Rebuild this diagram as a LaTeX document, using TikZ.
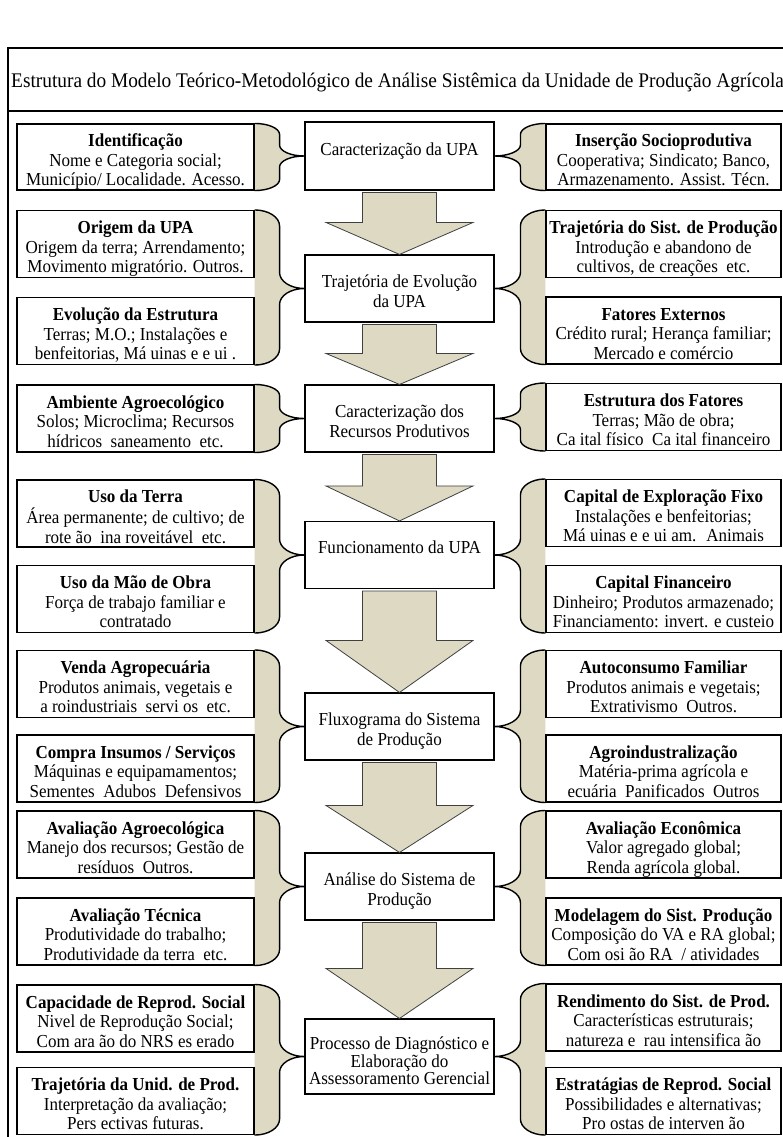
\documentclass[tikz,border=0pt]{standalone}
\usepackage{fontspec}
\setmainfont[FakeStretch=0.93]{Liberation Serif}
\usepackage{tikz}
\usetikzlibrary{calc,backgrounds}
\definecolor{upafill}{HTML}{DDD9C3}
\newcommand{\caixa}[2][9.5pt]{\raisebox{-#1}[0pt][0pt]{\begin{tabular}{@{}c@{}}#2\end{tabular}}}

\begin{document}
\begin{tikzpicture}[x=1pt,y=-1pt,
    sidebox/.style={draw,line width=1.1pt,fill=white,minimum width=237pt,minimum height=67pt,inner sep=0pt,font=\fontsize{18.3}{19.5}\selectfont},
    midbox/.style={draw,line width=1.1pt,fill=white,minimum width=189pt,minimum height=67pt,inner sep=0pt,font=\fontsize{18.3}{20.5}\selectfont},
    flowarrow/.style={fill=upafill,draw=black!75,line width=0.8pt,line join=miter},
    bracepen/.style={fill=upafill,draw=black,line width=1.4pt}]
    \useasboundingbox (0,0) rectangle (782,1137);
    \draw[line width=1.3pt] (8,1160) |- (800,48);
    \draw[line width=1.3pt] (8,111) -- (800,111);
    \node[anchor=west,inner sep=0pt,font=\fontsize{20.8}{23}\selectfont] (titulo) at (11,83) {Estrutura do Modelo Teórico-Metodológico de Análise Sistêmica da Unidade de Produção Agrícola};

    \node[midbox,minimum height=68pt] (carac) at (399.5,156) {\caixa[-0.5pt]{Caracterização da UPA}};
    \node[midbox] (traj) at (399.5,288.5) {\caixa[9pt]{Trajetória de Evolução\\da UPA}};
    \node[midbox] (recur) at (399.5,418.5) {\caixa[9pt]{Caracterização dos\\Recursos Produtivos}};
    \node[midbox] (func) at (399.5,555) {\caixa[-1.5pt]{Funcionamento da UPA}};
    \node[midbox] (flux) at (399.5,726.5) {\caixa[9pt]{Fluxograma do Sistema\\de Produção}};
    \node[midbox] (anal) at (399.5,886.5) {\caixa[9pt]{Análise do Sistema de\\Produção}};
    \node[midbox,minimum height=75pt,font=\fontsize{18.3}{16.8}\selectfont] (proc) at (399.5,1056.5) {\caixa[11pt]{Processo de Diagnóstico e\\Elaboração do\\Assessoramento Gerencial}};

    \node[sidebox,minimum height=66pt] (ident) at (135.5,157) {\caixa{\textbf{Identificação}\\Nome e Categoria social;\\Município/ Localidade. Acesso.}};
    \node[sidebox] (orig) at (135.5,244) {\caixa{\textbf{Origem da UPA}\\Origem da terra; Arrendamento;\\Movimento migratório. Outros.}};
    \node[sidebox] (evol) at (135.5,331) {\caixa{\textbf{Evolução da Estrutura}\\Terras; M.O.; Instalações e\\benfeitorias, Má uinas e e ui .}};
    \node[sidebox] (amb) at (135.5,418.5) {\caixa{\textbf{Ambiente Agroecológico}\\Solos; Microclima; Recursos\\hídricos~ saneamento~ etc.}};
    \node[sidebox] (terra) at (135.5,513.5) {\caixa{\textbf{Uso da Terra}\\Área permanente; de cultivo; de\\rote ão~ ina roveitável~ etc.}};
    \node[sidebox] (mao) at (135.5,599) {\caixa{\textbf{Uso da Mão de Obra}\\Força de trabajo familiar e\\contratado}};
    \node[sidebox] (venda) at (135.5,684) {\caixa{\textbf{Venda Agropecuária}\\Produtos animais, vegetais e\\a roindustriais~ servi os~ etc.}};
    \node[sidebox] (compra) at (135.5,768.5) {\caixa{\textbf{Compra Insumos / Serviços}\\Máquinas e equipamamentos;\\Sementes~ Adubos~ Defensivos}};
    \node[sidebox] (avagro) at (135.5,844.5) {\caixa{\textbf{Avaliação Agroecológica}\\Manejo dos recursos; Gestão de\\resíduos~ Outros.}};
    \node[sidebox] (avtec) at (135.5,931.5) {\caixa{\textbf{Avaliação Técnica}\\Produtividade do trabalho;\\Produtividade da terra~ etc.}};
    \node[sidebox] (capac) at (135.5,1018.5) {\caixa{\textbf{Capacidade de Reprod. Social}\\Nivel de Reprodução Social;\\Com ara ão do NRS es erado}};
    \node[sidebox] (trajun) at (135.5,1101) {\caixa{\textbf{Trajetória da Unid. de Prod.}\\Interpretação da avaliação;\\Pers ectivas futuras.}};

    \node[sidebox,minimum width=235pt,minimum height=66pt] (insercao) at (663.5,157) {\caixa{\textbf{Inserção Socioprodutiva}\\Cooperativa; Sindicato; Banco,\\Armazenamento. Assist. Técn.}};
    \node[sidebox,minimum width=235pt] (trajsp) at (663.5,244) {\caixa{\textbf{Trajetória do Sist. de Produção}\\Introdução e abandono de\\cultivos, de creações~ etc.}};
    \node[sidebox,minimum width=235pt] (fatext) at (663.5,330.5) {\caixa{\textbf{Fatores Externos}\\Crédito rural; Herança familiar;\\Mercado e comércio}};
    \node[sidebox,minimum width=235pt] (estrfat) at (663.5,417) {\caixa{\textbf{Estrutura dos Fatores}\\Terras; Mão de obra;\\Ca ital físico~ Ca ital financeiro}};
    \node[sidebox,minimum width=235pt] (capfix) at (663.5,513) {\caixa{\textbf{Capital de Exploração Fixo}\\Instalações e benfeitorias;\\Má uinas e e ui am.~ Animais}};
    \node[sidebox,minimum width=235pt] (capfin) at (663.5,599) {\caixa{\textbf{Capital Financeiro}\\Dinheiro; Produtos armazenado;\\Financiamento: invert. e custeio}};
    \node[sidebox,minimum width=235pt] (autocons) at (663.5,684) {\caixa{\textbf{Autoconsumo Familiar}\\Produtos animais e vegetais;\\Extrativismo~ Outros.}};
    \node[sidebox,minimum width=235pt] (agroind) at (663.5,768.5) {\caixa{\textbf{Agroindustralização}\\Matéria-prima agrícola e\\ecuária~ Panificados~ Outros}};
    \node[sidebox,minimum width=235pt] (avecon) at (663.5,844.5) {\caixa{\textbf{Avaliação Econômica}\\Valor agregado global;\\Renda agrícola global.}};
    \node[sidebox,minimum width=235pt] (model) at (663.5,931.5) {\caixa{\textbf{Modelagem do Sist. Produção}\\Composição do VA e RA global;\\Com osi ão RA~ / atividades}};
    \node[sidebox,minimum width=235pt] (rend) at (663.5,1017.5) {\caixa{\textbf{Rendimento do Sist. de Prod.}\\Características estruturais;\\natureza e~ rau intensifica ão}};
    \node[sidebox,minimum width=235pt] (estrat) at (663.5,1101) {\caixa{\textbf{Estratágias de Reprod. Social}\\Possibilidades e alternativas;\\Pro ostas de interven ão}};

    \foreach \a/\b/\h in {carac/traj/32,traj/recur/31,recur/func/35,func/flux/52,flux/anal/47,anal/proc/50}
        \draw[flowarrow] let \p1=(\a.south),\p2=(\b.north) in
            ({\x1-37pt},{\y1-2pt}) -- ({\x1+37pt},{\y1-2pt}) -- ({\x1+37pt},{\y2+\h*1pt}) -- ({\x1+73.5pt},{\y2+\h*1pt})
            -- (\x1,\y2) -- ({\x1-73.5pt},{\y2+\h*1pt}) -- ({\x1-37pt},{\y2+\h*1pt}) -- cycle;

    \begin{scope}[on background layer]
        \foreach \a/\b/\c/\rad in {ident/ident/carac/11,orig/evol/traj/16,amb/amb/recur/11,terra/mao/func/16,venda/compra/flux/16,avagro/avtec/anal/16,capac/trajun/proc/16}
            \filldraw[bracepen] let \p1=(\a.north east),\p2=(\b.south east),\p3=(\c.west) in
                (\p1) .. controls ({\x1+14pt},\y1) and ({\x1+25pt},{\y1-0.45*\rad*1pt}) .. ({\x1+25pt},{\y1-\rad*1pt})
                -- ({\x1+25pt},{\y3+\rad*1pt}) .. controls ({\x1+25pt},{\y3+0.45*\rad*1pt}) and ({\x3-14pt},\y3) .. (\p3)
                .. controls ({\x3-14pt},\y3) and ({\x1+25pt},{\y3-0.45*\rad*1pt}) .. ({\x1+25pt},{\y3-\rad*1pt})
                -- ({\x1+25pt},{\y2+\rad*1pt}) .. controls ({\x1+25pt},{\y2+0.45*\rad*1pt}) and ({\x2+14pt},\y2) .. (\p2);
        \foreach \a/\b/\c/\rad in {insercao/insercao/carac/11,trajsp/fatext/traj/16,estrfat/estrfat/recur/11,capfix/capfin/func/16,autocons/agroind/flux/16,avecon/model/anal/16,rend/estrat/proc/16}
            \filldraw[bracepen] let \p1=(\a.north west),\p2=(\b.south west),\p3=(\c.east) in
                (\p1) .. controls ({\x1-14pt},\y1) and ({\x1-25pt},{\y1-0.45*\rad*1pt}) .. ({\x1-25pt},{\y1-\rad*1pt})
                -- ({\x1-25pt},{\y3+\rad*1pt}) .. controls ({\x1-25pt},{\y3+0.45*\rad*1pt}) and ({\x3+14pt},\y3) .. (\p3)
                .. controls ({\x3+14pt},\y3) and ({\x1-25pt},{\y3-0.45*\rad*1pt}) .. ({\x1-25pt},{\y3-\rad*1pt})
                -- ({\x1-25pt},{\y2+\rad*1pt}) .. controls ({\x1-25pt},{\y2+0.45*\rad*1pt}) and ({\x2-14pt},\y2) .. (\p2);
    \end{scope}
\end{tikzpicture}
\end{document}
